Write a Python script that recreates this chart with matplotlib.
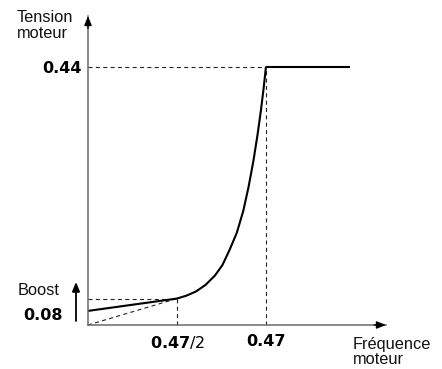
import matplotlib
matplotlib.use("Agg")
import matplotlib.pyplot as plt

plt.rcParams['font.family'] = ['Liberation Sans', 'DejaVu Sans']
plt.rcParams['mathtext.fontset'] = 'dejavusans'
plt.rcParams['lines.scale_dashes'] = False

# ---- data ----
f_base = 0.47          # base frequency
v_max = 0.44           # max motor voltage
f_half = 0.235         # base frequency / 2
v_boost_pt = 0.045     # voltage at f_base/2
v_boost0 = 0.024       # boost at zero frequency
f_end = 0.693          # end of flat segment

boost_x = [0.0, f_half]
boost_y = [v_boost0, v_boost_pt]
curve_x = [0.235, 0.260, 0.285, 0.310, 0.335, 0.355, 0.374, 0.393, 0.410,
           0.424, 0.437, 0.448, 0.457, 0.464, 0.470]
curve_y = [0.045, 0.050, 0.057, 0.068, 0.084, 0.102, 0.128, 0.157, 0.194,
           0.235, 0.280, 0.325, 0.367, 0.404, 0.440]
flat_x = [f_base, f_end]
flat_y = [v_max, v_max]

ytick_vals = [v_max]
ytick_labels = ['0.44']
xtick_vals = [f_half, f_base]
xtick_labels = [r'$\mathbf{0.47}$/2', '0.47']

W, H = 442, 369
fig = plt.figure(figsize=(W / 100, H / 100), dpi=100)
ax = fig.add_axes([88 / W, 44 / H, 298 / W, 309 / H])
ax.set_xlim(0, 0.787)
ax.set_ylim(0, 0.526)

for s in ['top', 'right']:
    ax.spines[s].set_visible(False)
for s in ['left', 'bottom']:
    ax.spines[s].set_color('#6a6a6a')
    ax.spines[s].set_linewidth(1.1)

dash = dict(color='#222222', lw=0.8, linestyle=(0, (2.9, 2.4)), clip_on=False)
ax.plot([0, f_base], [v_max, v_max], **dash)
ax.plot([f_base, f_base], [0, v_max], **dash)
ax.plot([0, f_half], [v_boost_pt, v_boost_pt], **dash)
ax.plot([f_half, f_half], [0, v_boost_pt], **dash)
ax.plot([0, f_half], [0, v_boost_pt], **dash)

line = dict(color='black', lw=1.5, solid_capstyle='butt', solid_joinstyle='round')
ax.plot(boost_x, boost_y, **line)
ax.plot(curve_x, curve_y, **line)
ax.plot(flat_x, flat_y, **line)

# axis arrowheads
ah = dict(arrowstyle='-|>,head_length=0.55,head_width=0.22', color='black',
          lw=1.0, shrinkA=0, shrinkB=0)
ax.annotate('', xy=(0, 1), xytext=(0, 0.96), xycoords='axes fraction',
            arrowprops=ah, annotation_clip=False)
ax.annotate('', xy=(1, 0), xytext=(0.96, 0), xycoords='axes fraction',
            arrowprops=ah, annotation_clip=False)

ax.set_yticks(ytick_vals)
ax.set_yticklabels(ytick_labels, fontsize=11.5, fontweight='bold',
                   family='DejaVu Sans')
ax.tick_params(axis='y', length=0, pad=4.5)
ax.set_xticks(xtick_vals)
xl = ax.set_xticklabels(xtick_labels, fontsize=11.5, family='DejaVu Sans')
xl[1].set_fontweight('bold')
ax.tick_params(axis='x', length=0, pad=6.5)


def ftext(px, py, s, **kw):
    fig.text(px / W, 1 - py / H, s, **kw)


fs = 11.8
ftext(17, 22, 'Tension', fontsize=fs, va='baseline', color='#111111')
ftext(17, 38, 'moteur', fontsize=fs, va='baseline', color='#111111')
ftext(18, 295, 'Boost', fontsize=fs, va='baseline', color='#111111')
ftext(63, 320, '0.08', fontsize=11.5, va='baseline', ha='right',
      fontweight='bold', family='DejaVu Sans')
ftext(353, 349, 'Fréquence', fontsize=fs, va='baseline', color='#111111')
ftext(353, 364, 'moteur', fontsize=fs, va='baseline', color='#111111')

fig.patches.append(matplotlib.patches.FancyArrowPatch(
    (76 / W, 1 - 321 / H), (76 / W, 1 - 282 / H), transform=fig.transFigure,
    arrowstyle='-|>,head_length=0.6,head_width=0.25', color='black', lw=1.3,
    shrinkA=0, shrinkB=0, mutation_scale=9))

fig.savefig('out.png', dpi=100)
